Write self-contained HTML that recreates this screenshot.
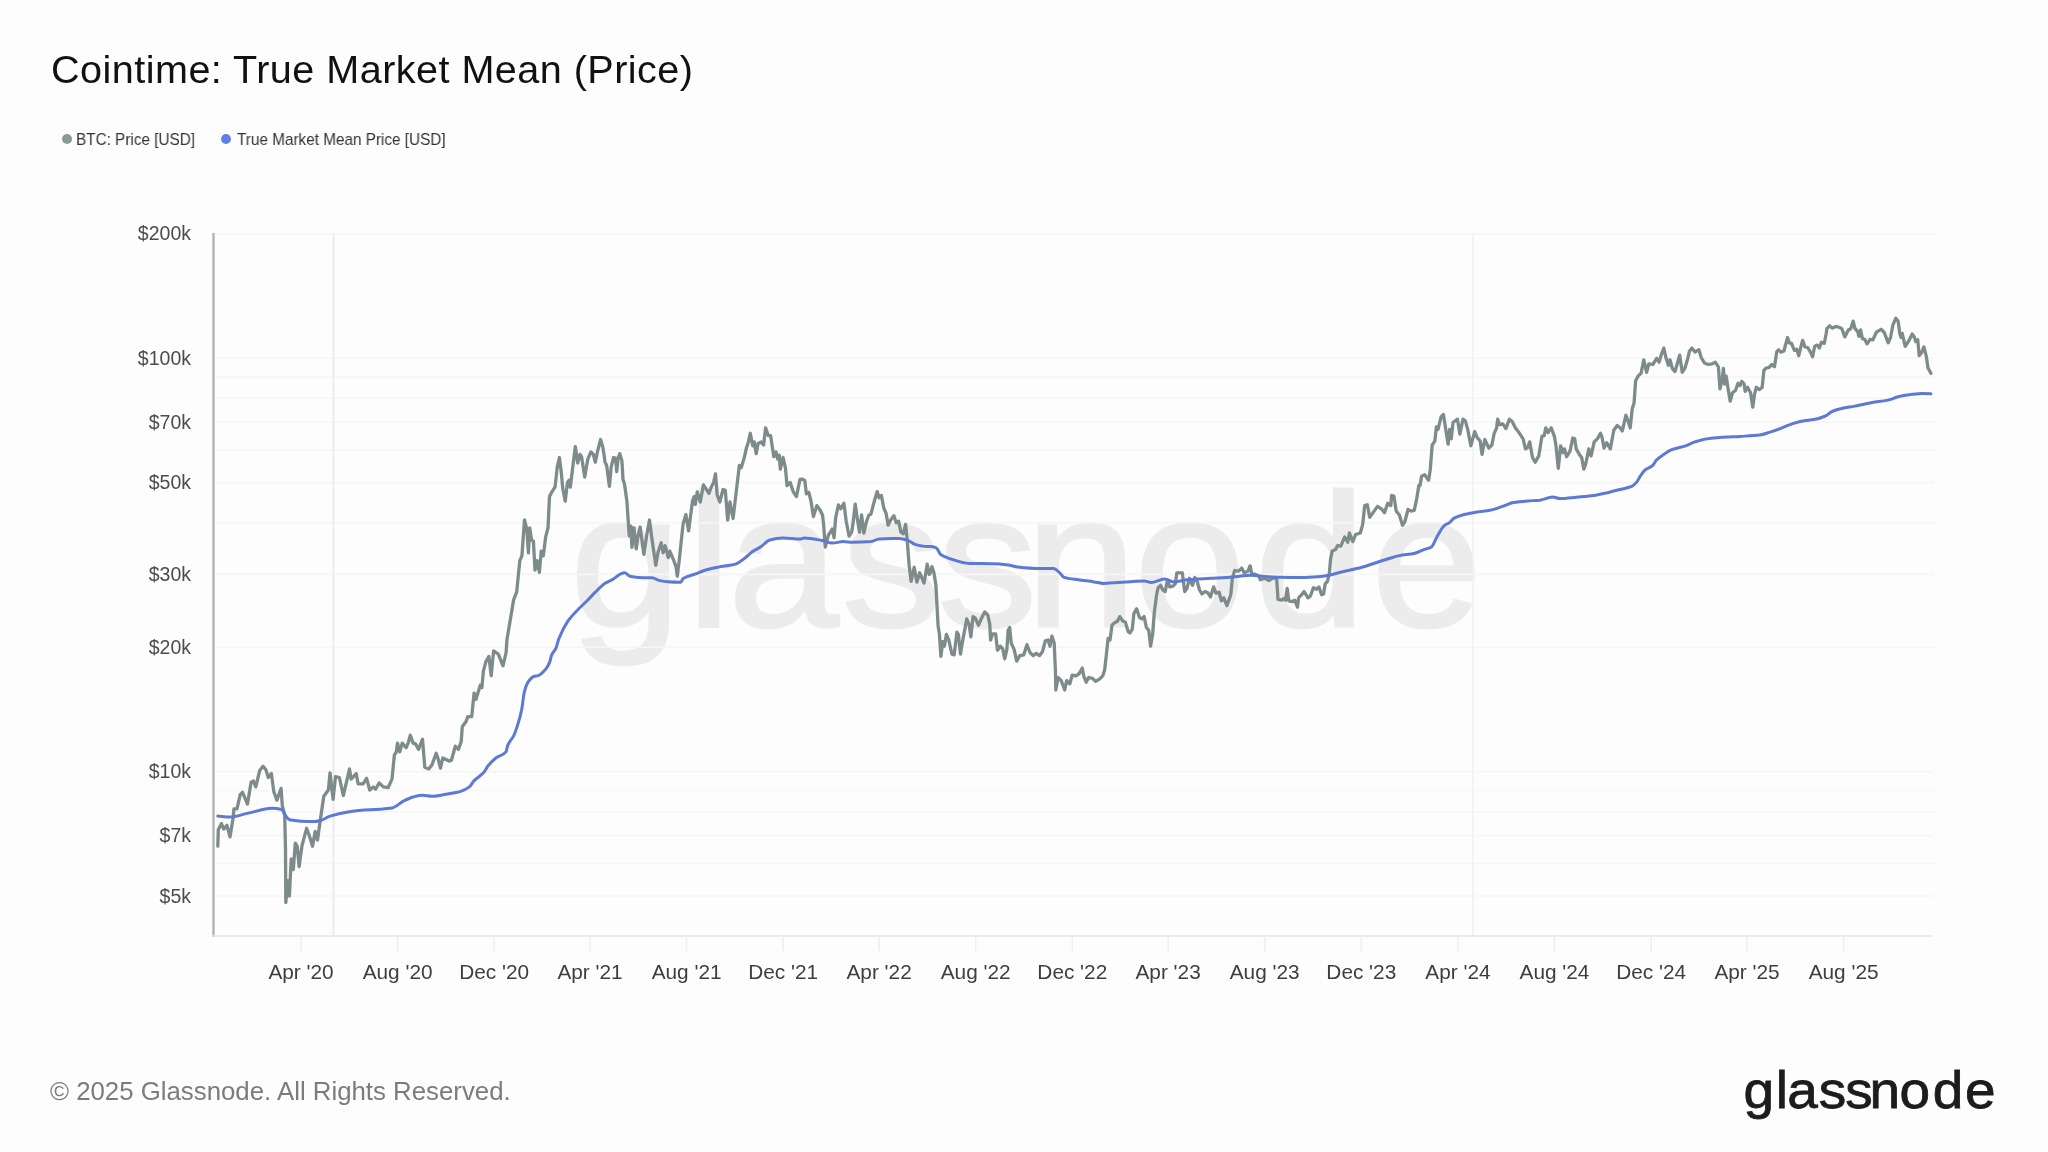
<!DOCTYPE html>
<html><head><meta charset="utf-8"><title>Cointime: True Market Mean (Price)</title>
<style>
html,body{margin:0;padding:0;background:#fdfdfd;}
body{width:2048px;height:1152px;position:relative;overflow:hidden;font-family:"Liberation Sans",sans-serif;}
.title,.legend,.footer{will-change:transform;}
.title{position:absolute;left:51px;top:46.3px;font-size:39.6px;line-height:46px;letter-spacing:0.46px;color:#111;white-space:nowrap;}
.legend{position:absolute;top:130.3px;font-size:16.2px;line-height:18px;color:#333;white-space:nowrap;transform:scaleX(0.945);transform-origin:0 0;}
.dot{position:absolute;width:10px;height:10px;border-radius:50%;top:134px;}
.footer{position:absolute;left:49.5px;top:1076px;font-size:25.8px;line-height:30px;color:#7c7c7c;white-space:nowrap;}
</style></head><body>
<svg width="2048" height="1152" viewBox="0 0 2048 1152" style="position:absolute;left:0;top:0;will-change:transform">
<g transform="translate(1024.5 626) scale(1.0 0.95)"><text x="-454.3 -337.7 -296.5 -182.6 -86.7 1.2 110.0 230.2 347.1" y="0" font-family="Liberation Sans, sans-serif" font-size="199" fill="#ececec" stroke="#ececec" stroke-width="3">glassnode</text></g>
<line x1="213.5" x2="1934" y1="233.8" y2="233.8" stroke="#f6f6f6" stroke-width="1.6"/>
<line x1="213.5" x2="1934" y1="358.2" y2="358.2" stroke="#f6f6f6" stroke-width="1.6"/>
<line x1="213.5" x2="1934" y1="377.1" y2="377.1" stroke="#f6f6f6" stroke-width="1.6"/>
<line x1="213.5" x2="1934" y1="398.3" y2="398.3" stroke="#f6f6f6" stroke-width="1.6"/>
<line x1="213.5" x2="1934" y1="422.2" y2="422.2" stroke="#f6f6f6" stroke-width="1.6"/>
<line x1="213.5" x2="1934" y1="449.9" y2="449.9" stroke="#f6f6f6" stroke-width="1.6"/>
<line x1="213.5" x2="1934" y1="482.6" y2="482.6" stroke="#f6f6f6" stroke-width="1.6"/>
<line x1="213.5" x2="1934" y1="522.7" y2="522.7" stroke="#f6f6f6" stroke-width="1.6"/>
<line x1="213.5" x2="1934" y1="574.4" y2="574.4" stroke="#f6f6f6" stroke-width="1.6"/>
<line x1="213.5" x2="1934" y1="647.2" y2="647.2" stroke="#f6f6f6" stroke-width="1.6"/>
<line x1="213.5" x2="1934" y1="771.6" y2="771.6" stroke="#f6f6f6" stroke-width="1.6"/>
<line x1="213.5" x2="1934" y1="790.5" y2="790.5" stroke="#f6f6f6" stroke-width="1.6"/>
<line x1="213.5" x2="1934" y1="811.7" y2="811.7" stroke="#f6f6f6" stroke-width="1.6"/>
<line x1="213.5" x2="1934" y1="835.6" y2="835.6" stroke="#f6f6f6" stroke-width="1.6"/>
<line x1="213.5" x2="1934" y1="863.3" y2="863.3" stroke="#f6f6f6" stroke-width="1.6"/>
<line x1="213.5" x2="1934" y1="896.0" y2="896.0" stroke="#f6f6f6" stroke-width="1.6"/>
<line x1="333.5" x2="333.5" y1="233" y2="936" stroke="#ebebeb" stroke-width="1.8"/>
<line x1="1473.0" x2="1473.0" y1="233" y2="936" stroke="#f2f2f2" stroke-width="1.8"/>
<line x1="213.5" x2="213.5" y1="233" y2="937" stroke="#b0b0b0" stroke-width="2.3"/>
<line x1="212.5" x2="1932" y1="936" y2="936" stroke="#e6e6e6" stroke-width="1.6"/>
<line x1="301.0" x2="301.0" y1="936" y2="951" stroke="#efefef" stroke-width="1.6"/>
<text x="301.0" y="979" text-anchor="middle" font-family="Liberation Sans, sans-serif" font-size="20.8" fill="#3e3e3e">Apr '20</text>
<line x1="397.6" x2="397.6" y1="936" y2="951" stroke="#efefef" stroke-width="1.6"/>
<text x="397.6" y="979" text-anchor="middle" font-family="Liberation Sans, sans-serif" font-size="20.8" fill="#3e3e3e">Aug '20</text>
<line x1="494.2" x2="494.2" y1="936" y2="951" stroke="#efefef" stroke-width="1.6"/>
<text x="494.2" y="979" text-anchor="middle" font-family="Liberation Sans, sans-serif" font-size="20.8" fill="#3e3e3e">Dec '20</text>
<line x1="590.0" x2="590.0" y1="936" y2="951" stroke="#efefef" stroke-width="1.6"/>
<text x="590.0" y="979" text-anchor="middle" font-family="Liberation Sans, sans-serif" font-size="20.8" fill="#3e3e3e">Apr '21</text>
<line x1="686.6" x2="686.6" y1="936" y2="951" stroke="#efefef" stroke-width="1.6"/>
<text x="686.6" y="979" text-anchor="middle" font-family="Liberation Sans, sans-serif" font-size="20.8" fill="#3e3e3e">Aug '21</text>
<line x1="783.2" x2="783.2" y1="936" y2="951" stroke="#efefef" stroke-width="1.6"/>
<text x="783.2" y="979" text-anchor="middle" font-family="Liberation Sans, sans-serif" font-size="20.8" fill="#3e3e3e">Dec '21</text>
<line x1="879.1" x2="879.1" y1="936" y2="951" stroke="#efefef" stroke-width="1.6"/>
<text x="879.1" y="979" text-anchor="middle" font-family="Liberation Sans, sans-serif" font-size="20.8" fill="#3e3e3e">Apr '22</text>
<line x1="975.7" x2="975.7" y1="936" y2="951" stroke="#efefef" stroke-width="1.6"/>
<text x="975.7" y="979" text-anchor="middle" font-family="Liberation Sans, sans-serif" font-size="20.8" fill="#3e3e3e">Aug '22</text>
<line x1="1072.3" x2="1072.3" y1="936" y2="951" stroke="#efefef" stroke-width="1.6"/>
<text x="1072.3" y="979" text-anchor="middle" font-family="Liberation Sans, sans-serif" font-size="20.8" fill="#3e3e3e">Dec '22</text>
<line x1="1168.1" x2="1168.1" y1="936" y2="951" stroke="#efefef" stroke-width="1.6"/>
<text x="1168.1" y="979" text-anchor="middle" font-family="Liberation Sans, sans-serif" font-size="20.8" fill="#3e3e3e">Apr '23</text>
<line x1="1264.7" x2="1264.7" y1="936" y2="951" stroke="#efefef" stroke-width="1.6"/>
<text x="1264.7" y="979" text-anchor="middle" font-family="Liberation Sans, sans-serif" font-size="20.8" fill="#3e3e3e">Aug '23</text>
<line x1="1361.3" x2="1361.3" y1="936" y2="951" stroke="#efefef" stroke-width="1.6"/>
<text x="1361.3" y="979" text-anchor="middle" font-family="Liberation Sans, sans-serif" font-size="20.8" fill="#3e3e3e">Dec '23</text>
<line x1="1457.9" x2="1457.9" y1="936" y2="951" stroke="#efefef" stroke-width="1.6"/>
<text x="1457.9" y="979" text-anchor="middle" font-family="Liberation Sans, sans-serif" font-size="20.8" fill="#3e3e3e">Apr '24</text>
<line x1="1554.5" x2="1554.5" y1="936" y2="951" stroke="#efefef" stroke-width="1.6"/>
<text x="1554.5" y="979" text-anchor="middle" font-family="Liberation Sans, sans-serif" font-size="20.8" fill="#3e3e3e">Aug '24</text>
<line x1="1651.1" x2="1651.1" y1="936" y2="951" stroke="#efefef" stroke-width="1.6"/>
<text x="1651.1" y="979" text-anchor="middle" font-family="Liberation Sans, sans-serif" font-size="20.8" fill="#3e3e3e">Dec '24</text>
<line x1="1747.0" x2="1747.0" y1="936" y2="951" stroke="#efefef" stroke-width="1.6"/>
<text x="1747.0" y="979" text-anchor="middle" font-family="Liberation Sans, sans-serif" font-size="20.8" fill="#3e3e3e">Apr '25</text>
<line x1="1843.6" x2="1843.6" y1="936" y2="951" stroke="#efefef" stroke-width="1.6"/>
<text x="1843.6" y="979" text-anchor="middle" font-family="Liberation Sans, sans-serif" font-size="20.8" fill="#3e3e3e">Aug '25</text>
<text x="191" y="240.3" text-anchor="end" font-family="Liberation Sans, sans-serif" font-size="19.5" fill="#4c4c4c">$200k</text>
<text x="191" y="364.7" text-anchor="end" font-family="Liberation Sans, sans-serif" font-size="19.5" fill="#4c4c4c">$100k</text>
<text x="191" y="428.7" text-anchor="end" font-family="Liberation Sans, sans-serif" font-size="19.5" fill="#4c4c4c">$70k</text>
<text x="191" y="489.1" text-anchor="end" font-family="Liberation Sans, sans-serif" font-size="19.5" fill="#4c4c4c">$50k</text>
<text x="191" y="580.9" text-anchor="end" font-family="Liberation Sans, sans-serif" font-size="19.5" fill="#4c4c4c">$30k</text>
<text x="191" y="653.7" text-anchor="end" font-family="Liberation Sans, sans-serif" font-size="19.5" fill="#4c4c4c">$20k</text>
<text x="191" y="778.1" text-anchor="end" font-family="Liberation Sans, sans-serif" font-size="19.5" fill="#4c4c4c">$10k</text>
<text x="191" y="842.1" text-anchor="end" font-family="Liberation Sans, sans-serif" font-size="19.5" fill="#4c4c4c">$7k</text>
<text x="191" y="902.5" text-anchor="end" font-family="Liberation Sans, sans-serif" font-size="19.5" fill="#4c4c4c">$5k</text>
<path d="M217.8,846.2 L218.3,829.8 L221.4,823.6 L223.8,829.1 L226.9,825.2 L230.0,836.9 L233.1,818.1 L233.9,808.8 L237.0,808.8 L240.2,794.7 L242.5,792.3 L247.5,804.1 L251.1,782.2 L253.4,780.9 L255.8,786.9 L259.7,770.5 L263.1,766.2 L265.9,769.7 L268.3,777.5 L271.4,773.6 L273.8,791.6 L276.9,800.2 L281.1,788.4 L282.3,805.6 L284.7,815.0 L285.5,849.4 L285.8,902.5 L287.8,880.6 L289.4,896.2 L291.2,858.8 L293.3,869.7 L295.3,843.1 L297.2,846.2 L299.1,866.6 L301.9,846.2 L306.6,828.3 L309.7,836.9 L312.5,846.2 L315.2,831.4 L317.5,840.0 L320.6,818.1 L323.8,796.2 L328.4,790.0 L330.0,772.8 L333.1,799.4 L335.5,776.7 L339.4,777.5 L343.3,795.5 L347.2,779.1 L349.5,768.9 L351.1,779.1 L356.2,773.6 L358.1,783.8 L363.1,783.8 L366.6,778.3 L369.7,790.0 L373.3,786.9 L375.6,789.2 L379.1,783.0 L383.4,786.9 L388.1,787.7 L392.0,779.1 L394.4,754.8 L396.2,752.5 L397.5,743.1 L399.8,751.7 L402.2,743.1 L406.1,747.8 L408.4,742.3 L410.3,735.3 L413.1,743.1 L415.5,743.9 L418.6,749.4 L422.5,739.2 L424.8,767.3 L428.8,768.9 L431.9,765.0 L436.2,753.3 L438.1,758.8 L440.5,768.1 L442.8,758.0 L449.1,761.1 L451.4,760.3 L455.3,746.2 L458.4,749.4 L461.2,741.6 L462.3,726.7 L466.2,721.2 L467.8,716.6 L471.7,716.6 L474.1,693.1 L475.9,699.4 L480.3,685.3 L481.9,687.7 L483.4,671.2 L485.8,661.9 L488.9,656.4 L491.2,675.9 L493.6,650.9 L498.3,654.1 L503.0,665.8 L506.1,652.5 L506.9,640.0 L513.6,600.0 L516.7,591.9 L519.8,560.6 L521.9,555.9 L524.5,520.0 L526.9,529.4 L528.4,552.8 L529.7,527.8 L531.6,540.3 L533.4,541.1 L535.0,570.0 L537.0,560.6 L539.4,572.3 L541.2,551.2 L543.3,555.9 L545.6,537.2 L548.0,527.8 L549.5,496.6 L551.9,491.9 L555.0,487.2 L557.3,466.9 L559.4,457.5 L561.2,471.6 L562.8,488.8 L565.2,501.2 L567.5,482.5 L569.1,480.2 L570.3,487.2 L573.0,465.3 L575.3,446.6 L577.7,463.0 L580.0,454.4 L581.6,456.7 L584.7,477.0 L587.8,459.1 L590.9,452.0 L593.3,454.4 L595.3,462.2 L597.2,452.8 L600.6,439.5 L602.7,446.6 L604.2,455.9 L605.0,462.2 L606.6,465.3 L609.4,486.4 L611.2,466.9 L613.6,457.5 L615.6,458.3 L616.7,471.6 L618.3,457.5 L619.8,453.6 L621.9,460.6 L623.0,479.4 L624.5,484.1 L626.9,501.2 L629.2,535.6 L630.8,526.2 L631.9,547.3 L633.9,527.8 L636.2,548.9 L638.1,535.6 L640.2,527.0 L643.8,554.4 L646.4,537.2 L649.5,520.0 L651.9,538.8 L655.8,565.3 L658.1,552.0 L661.2,542.7 L663.1,552.8 L665.2,545.8 L668.3,557.5 L669.8,551.2 L673.8,560.6 L676.1,566.9 L677.3,576.2 L679.2,560.6 L683.1,523.9 L685.9,514.5 L688.6,530.9 L692.5,501.2 L694.1,496.6 L695.3,504.4 L697.2,491.9 L700.3,502.0 L703.4,484.8 L708.9,493.4 L711.2,487.2 L713.6,482.5 L715.5,473.9 L717.2,495.0 L719.8,502.0 L723.0,489.5 L725.3,490.3 L727.7,520.0 L730.0,502.0 L733.1,518.4 L736.2,491.9 L739.4,465.3 L741.2,467.7 L744.1,458.3 L746.4,448.1 L748.4,441.9 L750.3,433.3 L752.7,445.8 L754.2,441.9 L756.2,453.6 L758.1,443.4 L761.2,441.9 L763.6,445.0 L765.6,427.8 L768.3,435.6 L770.6,435.6 L773.8,456.7 L776.1,452.0 L777.7,459.1 L779.2,455.2 L780.3,469.2 L783.1,457.5 L785.5,468.4 L787.0,485.6 L790.2,482.5 L793.3,491.9 L796.4,496.6 L800.0,479.4 L802.5,479.1 L804.8,480.6 L806.4,493.9 L808.8,492.3 L811.1,501.7 L813.4,516.6 L816.9,505.6 L819.7,509.5 L822.5,515.0 L823.6,524.4 L825.2,547.0 L828.3,535.3 L832.2,529.1 L834.1,537.7 L835.6,518.1 L838.4,504.8 L840.8,508.8 L843.9,503.3 L846.2,521.2 L849.1,536.1 L851.7,532.2 L853.3,521.2 L855.2,504.1 L857.2,518.1 L859.5,532.2 L861.6,515.0 L863.8,533.0 L866.6,521.2 L868.9,515.0 L870.9,514.2 L874.4,500.9 L877.2,491.6 L879.1,497.8 L881.4,495.5 L883.8,508.0 L886.1,513.4 L888.1,525.2 L890.8,519.7 L893.9,515.8 L896.2,522.8 L898.6,521.2 L900.9,532.2 L903.3,533.8 L905.6,524.4 L907.2,540.0 L909.1,565.0 L911.1,581.4 L914.2,567.3 L916.9,582.2 L919.7,572.8 L924.1,583.0 L927.2,564.2 L929.1,574.4 L930.0,573.6 L931.9,566.6 L933.9,572.8 L935.9,585.3 L937.0,605.6 L938.1,625.9 L939.4,633.8 L940.9,656.4 L942.8,641.6 L944.4,646.2 L946.4,634.5 L948.8,640.0 L951.9,654.1 L954.2,654.8 L956.9,632.2 L958.4,634.5 L960.5,654.1 L962.8,640.0 L965.2,627.5 L966.7,618.9 L969.1,624.4 L970.9,636.9 L973.0,616.6 L975.3,618.1 L978.4,625.2 L981.6,618.1 L984.7,611.9 L987.8,615.0 L989.8,624.4 L990.6,640.0 L992.5,633.8 L995.6,633.8 L997.5,650.2 L1000.3,646.2 L1002.7,648.6 L1004.7,658.8 L1006.9,649.4 L1008.1,630.6 L1009.7,627.5 L1011.2,643.1 L1014.1,649.4 L1016.7,661.1 L1019.8,655.6 L1023.8,654.8 L1026.9,644.7 L1030.0,652.5 L1033.1,655.6 L1036.2,653.3 L1039.4,655.6 L1042.5,651.7 L1045.3,640.8 L1048.0,640.0 L1050.0,646.2 L1051.9,636.1 L1054.2,643.1 L1055.5,672.8 L1055.8,690.0 L1058.1,677.5 L1061.2,680.6 L1064.7,690.0 L1066.7,680.6 L1069.8,683.8 L1072.2,675.2 L1076.1,675.9 L1079.2,673.6 L1082.3,668.1 L1083.9,676.7 L1086.2,682.2 L1088.6,677.5 L1092.5,678.3 L1095.6,681.4 L1099.5,679.1 L1102.7,675.9 L1104.7,669.7 L1106.6,652.5 L1108.1,638.4 L1110.0,640.0 L1112.0,625.2 L1114.4,622.8 L1117.5,621.2 L1119.8,616.6 L1123.0,621.2 L1125.3,622.0 L1128.1,631.4 L1130.0,633.0 L1132.3,629.1 L1133.9,613.4 L1136.6,608.8 L1139.4,617.3 L1141.7,618.9 L1144.1,616.6 L1146.4,627.5 L1148.8,630.6 L1150.6,646.2 L1152.7,633.8 L1154.2,613.4 L1156.6,594.7 L1158.1,587.7 L1160.5,585.3 L1162.8,590.0 L1165.2,591.6 L1167.5,579.8 L1169.8,586.9 L1173.0,586.1 L1175.3,583.8 L1176.9,572.8 L1182.3,572.8 L1184.7,591.6 L1187.0,588.4 L1189.4,578.3 L1192.5,585.3 L1194.8,577.5 L1197.2,581.4 L1199.5,590.0 L1201.9,593.9 L1205.0,591.6 L1208.1,593.1 L1210.5,597.0 L1213.6,586.9 L1215.9,593.1 L1219.1,592.3 L1221.4,600.9 L1223.8,597.8 L1226.9,605.6 L1230.8,594.7 L1232.3,578.3 L1234.7,570.5 L1238.6,571.2 L1241.7,568.1 L1244.1,572.8 L1248.0,571.2 L1250.0,565.8 L1250.2,565.8 L1251.7,573.6 L1255.6,574.4 L1258.8,575.9 L1260.3,579.8 L1265.0,578.3 L1268.9,580.6 L1273.6,577.5 L1276.7,579.1 L1278.0,599.4 L1281.4,600.2 L1283.8,598.6 L1285.6,600.2 L1287.2,588.4 L1288.8,600.9 L1292.3,601.7 L1294.7,600.2 L1297.5,607.2 L1298.6,597.8 L1301.7,594.7 L1304.1,591.6 L1308.0,597.8 L1310.3,596.2 L1313.4,587.7 L1316.6,589.2 L1318.9,586.9 L1321.6,594.7 L1323.6,593.9 L1325.2,583.8 L1327.5,581.4 L1329.4,572.8 L1330.6,558.8 L1332.2,550.9 L1335.6,549.4 L1337.7,545.5 L1340.8,546.2 L1344.7,536.9 L1347.8,542.3 L1349.4,533.0 L1352.8,541.6 L1355.6,534.5 L1360.3,533.0 L1362.7,524.4 L1364.7,505.6 L1367.3,504.8 L1369.7,517.3 L1373.6,511.9 L1377.5,506.4 L1381.4,508.8 L1384.5,512.7 L1387.7,503.3 L1390.8,505.6 L1391.6,495.5 L1393.9,496.2 L1396.2,511.1 L1399.4,515.0 L1402.5,525.2 L1404.8,522.0 L1408.0,509.5 L1411.1,511.1 L1414.2,510.3 L1416.6,499.4 L1418.9,485.3 L1420.0,485.6 L1421.6,476.2 L1424.7,474.7 L1428.6,480.2 L1430.2,470.0 L1432.2,445.0 L1434.8,441.1 L1436.4,427.0 L1438.0,429.4 L1441.1,416.9 L1443.4,414.5 L1445.8,429.4 L1448.1,444.2 L1449.7,429.4 L1451.2,438.8 L1453.1,422.3 L1457.5,419.2 L1459.8,434.1 L1463.0,419.2 L1465.3,420.8 L1467.7,429.4 L1470.8,445.8 L1474.7,431.7 L1477.0,437.2 L1480.2,441.1 L1482.0,454.4 L1484.8,439.5 L1488.8,448.1 L1491.9,445.0 L1494.2,433.3 L1496.6,427.8 L1497.7,419.2 L1499.7,424.7 L1502.8,423.9 L1505.9,428.6 L1509.4,419.2 L1512.2,421.6 L1515.3,427.8 L1518.4,431.7 L1523.1,438.8 L1525.5,448.9 L1527.8,447.3 L1529.7,441.9 L1532.5,457.5 L1535.2,462.2 L1538.8,455.9 L1541.9,436.4 L1544.2,435.6 L1545.8,427.8 L1548.1,432.5 L1551.2,427.8 L1554.4,436.4 L1555.9,445.0 L1558.3,468.4 L1560.6,445.8 L1563.0,452.8 L1564.5,448.9 L1566.6,456.7 L1570.0,451.2 L1572.8,438.0 L1574.7,438.8 L1576.2,448.9 L1579.4,454.4 L1581.7,457.5 L1583.8,469.2 L1585.6,464.5 L1588.8,448.9 L1591.1,455.9 L1594.2,441.9 L1597.3,438.8 L1600.5,433.3 L1602.0,437.2 L1604.1,448.1 L1606.7,442.7 L1610.3,448.9 L1613.8,430.2 L1617.2,425.5 L1620.0,427.8 L1622.3,430.9 L1625.9,415.3 L1627.8,420.0 L1630.2,427.8 L1632.2,409.1 L1634.1,402.8 L1635.6,380.9 L1638.0,376.2 L1641.1,373.1 L1643.8,359.8 L1646.6,372.3 L1648.9,363.8 L1652.8,364.5 L1656.7,358.3 L1659.1,362.2 L1661.4,354.4 L1663.8,348.1 L1666.1,358.3 L1668.4,365.3 L1670.0,359.8 L1672.3,368.4 L1675.0,371.6 L1677.0,364.5 L1679.7,355.2 L1682.2,372.3 L1684.8,368.4 L1687.2,360.6 L1689.5,351.2 L1691.9,348.1 L1695.0,352.0 L1698.9,349.7 L1701.2,357.5 L1704.4,363.0 L1708.3,364.5 L1712.2,363.8 L1715.3,362.2 L1718.4,366.9 L1720.0,388.8 L1722.3,379.4 L1723.4,368.4 L1724.7,384.1 L1726.2,376.2 L1728.1,388.8 L1730.2,401.2 L1732.5,392.7 L1735.6,390.3 L1738.0,383.3 L1740.0,385.6 L1741.7,381.4 L1744.0,383.8 L1745.2,391.4 L1747.5,387.3 L1750.5,392.6 L1752.8,407.2 L1754.6,393.8 L1756.3,387.3 L1759.3,389.6 L1762.2,387.3 L1763.9,370.3 L1766.3,368.0 L1769.2,367.4 L1771.6,364.5 L1774.5,366.8 L1776.8,351.6 L1778.6,349.8 L1780.9,352.1 L1783.9,351.0 L1785.6,344.5 L1787.6,337.5 L1789.1,342.8 L1791.5,343.4 L1794.4,350.4 L1796.8,349.2 L1798.8,355.7 L1800.9,346.9 L1802.6,340.4 L1805.0,346.9 L1807.7,347.5 L1810.2,351.6 L1812.6,356.8 L1814.7,346.3 L1817.3,345.1 L1819.4,348.0 L1821.4,342.2 L1824.3,343.4 L1826.1,334.0 L1826.9,328.7 L1829.6,325.8 L1832.5,328.1 L1836.0,326.4 L1839.5,327.5 L1841.9,328.7 L1844.8,336.9 L1848.3,329.9 L1850.7,328.7 L1853.2,321.1 L1854.8,328.1 L1857.7,331.6 L1858.9,336.3 L1860.6,329.9 L1862.4,338.7 L1864.7,339.3 L1867.1,343.9 L1870.0,339.3 L1872.9,339.8 L1876.4,332.2 L1881.1,329.3 L1884.1,332.2 L1888.2,342.8 L1890.5,337.5 L1892.9,325.2 L1895.8,318.2 L1898.1,321.1 L1899.9,334.0 L1901.1,337.5 L1902.2,333.4 L1905.2,346.3 L1908.7,341.0 L1912.2,334.0 L1914.5,337.5 L1915.7,341.6 L1917.8,339.8 L1919.2,355.7 L1921.6,352.7 L1923.9,346.9 L1926.3,356.3 L1928.0,368.0 L1930.9,373.2" fill="none" stroke="#7d8c8b" stroke-width="3.3" stroke-linejoin="round" stroke-linecap="round"/>
<path d="M217.8,816.1 C221.9,816.4 225.9,817.0 230.0,817.0 C235.7,817.0 241.5,814.6 247.2,813.4 C255.5,811.7 263.9,808.3 272.2,808.3 C275.3,808.3 278.4,808.7 281.6,809.5 C283.1,810.0 284.7,814.7 286.2,816.6 C287.3,817.8 288.3,819.5 289.4,819.7 C297.7,821.2 306.0,821.6 314.4,821.6 C316.5,821.6 318.5,821.0 320.6,820.5 C323.8,819.7 326.9,817.0 330.0,816.1 C341.5,812.9 352.9,810.7 364.4,810.0 C368.1,809.8 371.9,809.7 375.6,809.5 C381.1,809.2 386.6,808.9 392.0,808.0 C395.9,807.3 399.8,802.8 403.8,800.9 C406.9,799.4 410.0,797.9 413.1,797.0 C416.2,796.2 419.4,795.2 422.5,795.2 C425.6,795.2 428.8,796.2 431.9,796.2 C437.1,796.2 442.3,794.8 447.5,793.9 C451.7,793.2 455.8,792.7 460.0,791.6 C463.1,790.7 466.2,789.3 469.4,786.9 C470.9,785.7 472.5,782.3 474.1,780.6 C477.2,777.3 480.3,776.3 483.4,772.8 C485.0,771.1 486.6,767.7 488.1,765.8 C490.7,762.6 493.3,760.0 495.9,758.0 C499.3,755.4 502.7,756.1 506.1,751.7 C506.6,751.0 507.1,746.8 507.7,745.5 C509.7,740.2 511.8,739.7 513.9,735.3 C515.2,732.6 516.5,728.6 517.8,724.4 C519.1,720.2 520.4,716.1 521.7,709.5 C522.5,705.6 523.3,696.7 524.1,693.1 C524.8,689.6 525.6,687.1 526.4,685.3 C527.7,682.4 529.0,680.4 530.3,679.1 C531.6,677.8 532.9,676.6 534.2,676.2 C535.5,675.9 536.8,676.0 538.1,675.6 C540.7,675.0 543.3,672.1 545.9,668.9 C547.2,667.3 548.5,665.3 549.8,661.9 C550.4,660.5 550.9,656.9 551.4,655.6 C553.0,651.7 554.5,651.4 556.1,647.8 C556.9,646.0 557.7,642.1 558.4,640.0 C561.6,631.6 564.8,625.6 568.0,620.9 C571.6,615.7 575.2,612.5 578.8,608.8 C581.8,605.6 584.8,603.0 587.8,600.0 C590.4,597.4 593.0,594.4 595.6,591.9 C598.8,588.8 601.9,585.3 605.0,583.3 C607.6,581.6 610.2,580.9 612.8,579.4 C615.4,577.9 618.0,575.0 620.6,573.9 C621.9,573.4 623.2,572.7 624.5,572.7 C626.4,572.7 628.2,575.8 630.0,576.2 C634.2,577.2 638.3,577.8 642.5,577.8 C645.6,577.8 648.8,577.8 651.9,577.8 C654.5,577.8 657.1,580.1 659.7,580.6 C662.3,581.1 664.9,581.6 667.5,581.7 C671.9,582.0 676.4,582.2 680.8,582.2 C681.6,582.2 682.3,579.1 683.1,578.6 C687.3,575.7 691.5,575.5 695.6,573.9 C699.3,572.5 702.9,570.7 706.6,569.7 C710.7,568.5 714.9,567.6 719.1,566.9 C722.7,566.2 726.4,566.0 730.0,565.3 C732.1,564.9 734.2,564.5 736.2,563.8 C739.4,562.6 742.5,559.9 745.6,557.5 C747.7,555.9 749.8,553.5 751.9,552.0 C755.0,549.8 758.1,548.7 761.2,546.6 C763.9,544.8 766.5,541.1 769.1,540.3 C773.8,538.9 778.4,538.0 783.1,538.0 C788.8,538.0 794.4,539.1 800.0,539.1 C801.4,539.1 802.7,538.1 804.1,538.1 C809.8,538.1 815.5,539.3 821.2,540.3 C824.9,540.9 828.5,543.1 832.2,543.1 C835.8,543.1 839.5,541.6 843.1,541.6 C846.2,541.6 849.4,542.3 852.5,542.3 C858.8,542.3 865.0,542.1 871.2,541.6 C873.9,541.3 876.5,539.0 879.1,538.9 C885.8,538.6 892.6,538.4 899.4,538.4 C902.5,538.4 905.6,539.7 908.8,540.8 C910.8,541.5 912.9,543.8 915.0,544.4 C919.2,545.6 923.3,546.6 927.5,546.6 C928.3,546.6 929.2,546.6 930.0,546.6 C932.1,546.6 934.2,547.0 936.2,547.8 C937.8,548.4 939.4,553.8 940.9,554.8 C944.1,557.0 947.2,557.7 950.3,558.8 C956.6,560.8 962.8,563.3 969.1,563.4 C976.9,563.6 984.7,563.6 992.5,563.8 C997.7,563.9 1002.9,564.4 1008.1,565.0 C1011.2,565.4 1014.4,566.5 1017.5,566.9 C1024.8,567.7 1032.1,568.4 1039.4,568.4 C1044.1,568.4 1048.8,568.4 1053.4,568.4 C1055.8,568.4 1058.1,571.4 1060.5,573.6 C1061.5,574.6 1062.6,576.8 1063.6,577.2 C1068.5,579.0 1073.5,579.1 1078.4,579.8 C1083.6,580.6 1088.9,581.1 1094.1,581.9 C1097.2,582.3 1100.3,583.4 1103.4,583.4 C1108.1,583.4 1112.8,582.8 1117.5,582.5 C1122.7,582.1 1127.9,581.7 1133.1,581.4 C1136.8,581.2 1140.4,580.9 1144.1,580.9 C1146.4,580.9 1148.8,582.5 1151.1,582.5 C1155.5,582.5 1159.9,579.1 1164.4,579.1 C1167.5,579.1 1170.6,581.9 1173.8,581.9 C1178.4,581.9 1183.1,580.3 1187.8,579.8 C1195.6,579.1 1203.4,578.7 1211.2,578.3 C1216.5,578.0 1221.7,577.9 1226.9,577.5 C1231.0,577.2 1235.2,576.7 1239.4,576.2 C1242.9,575.9 1246.5,575.2 1250.0,575.2 C1252.9,575.2 1255.8,575.7 1258.8,575.9 C1265.5,576.4 1272.3,577.0 1279.1,577.2 C1286.9,577.4 1294.7,577.5 1302.5,577.5 C1307.7,577.5 1312.9,577.1 1318.1,576.7 C1321.2,576.5 1324.4,576.1 1327.5,575.6 C1332.2,574.9 1336.9,573.2 1341.6,572.0 C1348.3,570.4 1355.1,569.2 1361.9,567.3 C1366.6,566.1 1371.2,564.2 1375.9,562.7 C1380.1,561.3 1384.3,560.0 1388.4,558.8 C1392.1,557.7 1395.7,556.4 1399.4,555.6 C1404.6,554.6 1409.8,554.5 1415.0,553.3 C1418.1,552.6 1421.2,550.5 1424.4,549.4 C1426.7,548.5 1429.1,548.4 1431.4,547.0 C1433.2,546.0 1435.1,539.9 1436.9,536.9 C1439.5,532.5 1442.1,527.0 1444.7,525.2 C1446.2,524.0 1447.8,523.9 1449.4,522.8 C1450.9,521.8 1452.5,519.0 1454.1,518.1 C1457.2,516.4 1460.3,515.5 1463.4,514.7 C1468.1,513.5 1472.8,512.6 1477.5,511.9 C1481.7,511.2 1485.8,511.1 1490.0,510.3 C1494.2,509.6 1498.3,507.8 1502.5,506.4 C1506.1,505.2 1509.8,503.1 1513.4,502.5 C1518.1,501.7 1522.8,501.3 1527.5,500.9 C1531.7,500.6 1535.8,500.6 1540.0,500.2 C1544.2,499.7 1548.3,497.0 1552.5,497.0 C1555.0,497.0 1557.5,498.6 1560.0,498.6 C1565.4,498.6 1570.8,497.8 1576.2,497.3 C1581.5,496.9 1586.7,496.5 1591.9,495.8 C1597.1,495.1 1602.3,493.8 1607.5,492.7 C1611.7,491.7 1615.8,490.6 1620.0,489.5 C1623.9,488.5 1627.8,488.1 1631.7,486.4 C1633.3,485.7 1634.8,484.2 1636.4,482.5 C1637.7,481.1 1639.0,478.1 1640.3,476.2 C1641.9,474.0 1643.4,471.3 1645.0,470.0 C1647.6,467.8 1650.2,467.7 1652.8,465.3 C1653.9,464.4 1654.9,461.8 1655.9,460.6 C1658.5,457.8 1661.1,456.2 1663.8,454.4 C1666.4,452.6 1669.0,450.7 1671.6,449.7 C1676.2,447.8 1680.9,447.4 1685.6,445.8 C1688.8,444.7 1691.9,442.9 1695.0,441.9 C1699.2,440.6 1703.3,439.3 1707.5,438.8 C1711.7,438.2 1715.8,437.8 1720.0,437.5 C1726.7,437.0 1733.3,436.8 1740.0,436.4 C1746.6,436.0 1753.2,435.8 1759.8,435.0 C1763.0,434.6 1766.1,433.4 1769.2,432.4 C1773.1,431.2 1777.0,429.8 1780.9,428.3 C1784.8,426.9 1788.8,424.8 1792.7,423.6 C1796.6,422.4 1800.5,421.3 1804.4,420.7 C1807.5,420.2 1810.6,420.1 1813.8,419.5 C1817.7,418.9 1821.6,417.7 1825.5,416.0 C1827.4,415.2 1829.4,412.9 1831.3,411.9 C1834.1,410.6 1836.8,409.7 1839.5,409.0 C1844.6,407.7 1849.7,407.1 1854.8,406.1 C1860.6,404.9 1866.5,403.6 1872.3,402.5 C1878.2,401.5 1884.1,401.0 1889.9,399.6 C1892.7,399.0 1895.4,397.3 1898.1,396.7 C1902.8,395.6 1907.5,394.9 1912.2,394.3 C1915.3,394.0 1918.4,393.4 1921.6,393.4 C1924.7,393.4 1927.8,393.6 1930.9,393.8" fill="none" stroke="#5d79d6" stroke-width="3" stroke-linejoin="round" stroke-linecap="round"/>
<g transform="translate(1586.10 935.50) scale(0.2762)"><g transform="translate(1024.5 626) scale(1.0 0.95)"><text x="-454.3 -337.7 -296.5 -182.6 -86.7 1.2 110.0 230.2 347.1" y="0" font-family="Liberation Sans, sans-serif" font-size="199" fill="#1c1c1c" stroke="#1c1c1c" stroke-width="3">glassnode</text></g></g>
</svg>
<div class="title">Cointime: True Market Mean (Price)</div>
<span class="dot" style="left:62.4px;background:#8a9a97"></span><div class="legend" style="left:76px">BTC: Price [USD]</div>
<span class="dot" style="left:221.4px;background:#627eea"></span><div class="legend" style="left:237px">True Market Mean Price [USD]</div>
<div class="footer">© 2025 Glassnode. All Rights Reserved.</div>
</body></html>
